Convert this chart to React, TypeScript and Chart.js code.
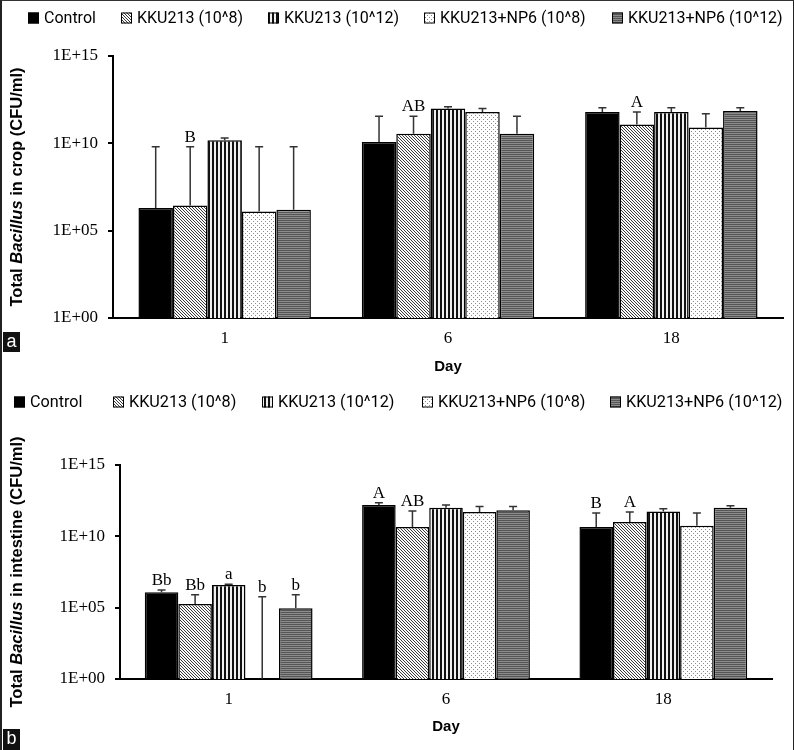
import React, { useEffect, useRef } from "react";
import { Chart, registerables } from "chart.js";
Chart.register(...registerables);

// ---------- data ----------
const days = ["1", "6", "18"];
const seriesNames = [
  "Control",
  "KKU213 (10^8)",
  "KKU213 (10^12)",
  "KKU213+NP6 (10^8)",
  "KKU213+NP6 (10^12)",
];
const yTickValues = [1e0, 1e5, 1e10, 1e15];

// Panel a: total Bacillus in crop (CFU/ml) — mean, and top of error bar
const cropControl = [2.0e6, 1.2e10, 6.3e11];
const cropK8 = [2.8e6, 3.5e10, 1.2e11];
const cropK12 = [1.5e10, 1.0e12, 6.3e11];
const cropN8 = [1.25e6, 6.3e11, 8.0e10];
const cropN12 = [1.6e6, 3.5e10, 7.0e11];
const cropControlUpper = [6.3e9, 3.5e11, 1.1e12];
const cropK8Upper = [6.3e9, 3.5e11, 6.3e11];
const cropK12Upper = [2.0e10, 1.25e12, 1.1e12];
const cropN8Upper = [6.3e9, 1.0e12, 5.0e11];
const cropN12Upper = [6.3e9, 3.5e11, 1.1e12];
const cropControlLetters = ["", "", ""];
const cropK8Letters = ["B", "AB", "A"];
const cropK12Letters = ["", "", ""];
const cropN8Letters = ["", "", ""];
const cropN12Letters = ["", "", ""];

// Panel b: total Bacillus in intestine (CFU/ml)
const intControl = [1.2e6, 1.6e12, 4.5e10];
const intK8 = [1.8e5, 4.5e10, 1.0e11];
const intK12 = [3.9e6, 1.0e12, 5.6e11];
const intN8 = [1, 5.0e11, 5.6e10];
const intN12 = [9.0e4, 6.6e11, 1.0e12];
const intControlUpper = [1.7e6, 2.3e12, 4.3e11];
const intK8Upper = [8.0e5, 5.9e11, 5.0e11];
const intK12Upper = [4.3e6, 1.6e12, 8.7e11];
const intN8Upper = [5.9e5, 1.25e12, 4.3e11];
const intN12Upper = [8.0e5, 1.25e12, 1.4e12];
const intControlLetters = ["Bb", "A", "B"];
const intK8Letters = ["Bb", "AB", "A"];
const intK12Letters = ["a", "", ""];
const intN8Letters = ["b", "", ""];
const intN12Letters = ["b", "", ""];

// ---------- styling helpers ----------
function makePattern(kind: string): CanvasPattern | string {
  const c = document.createElement("canvas");
  const g = c.getContext("2d")!;
  if (kind === "diag") {
    c.width = 3; c.height = 3;
    g.fillStyle = "#fafafa"; g.fillRect(0, 0, 3, 3);
    g.fillStyle = "#3a3a3a";
    g.fillRect(0, 0, 1, 1);
    g.fillRect(1, 1, 1, 1);
    g.fillRect(2, 2, 1, 1);
  } else if (kind === "vert") {
    c.width = 4; c.height = 1;
    g.fillStyle = "#f0f0f0"; g.fillRect(0, 0, 4, 1);
    g.fillStyle = "#111"; g.fillRect(0, 0, 2, 1);
  } else if (kind === "dots") {
    c.width = 4; c.height = 4;
    g.fillStyle = "#fff"; g.fillRect(0, 0, 4, 4);
    g.fillStyle = "#8a8a8a";
    g.fillRect(1, 1, 1, 1);
    g.fillRect(3, 3, 1, 1);
  } else {
    c.width = 1; c.height = 2;
    g.fillStyle = "#555"; g.fillRect(0, 0, 1, 1);
    g.fillStyle = "#8c8c8c"; g.fillRect(0, 1, 1, 1);
  }
  return g.createPattern(c, "repeat") || "#777";
}

type Panel = {
  values: number[][];
  upper: number[][];
  letters: string[][];
  titleRest: string;
  H: number;
  axisLeft: number;
  axisRight: number;
  axisTop: number;
  axisBottom: number;
  legendX: number[];
  legendY: number;
  legendFont: number;
  dayPad: number;
};

const W = 794;

function fmtTick(v: number) {
  const e = Math.round(Math.log10(v));
  return "1E+" + String(e).padStart(2, "0");
}

function buildConfig(p: Panel, fills: (CanvasPattern | string)[]): any {
  const decor = {
    id: "decor",
    afterDatasetsDraw(chart: any) {
      const ctx = chart.ctx as CanvasRenderingContext2D;
      const ys = chart.scales.y;
      ctx.save();
      chart.data.datasets.forEach((_ds: any, i: number) => {
        const meta = chart.getDatasetMeta(i);
        meta.data.forEach((el: any, j: number) => {
          const yErr = ys.getPixelForValue(p.upper[i][j]);
          ctx.strokeStyle = "#333";
          ctx.lineWidth = 1.5;
          ctx.beginPath();
          ctx.moveTo(el.x, el.y);
          ctx.lineTo(el.x, yErr);
          ctx.moveTo(el.x - 4, yErr);
          ctx.lineTo(el.x + 4, yErr);
          ctx.stroke();
          const lbl = p.letters[i][j];
          if (lbl) {
            ctx.fillStyle = "#000";
            ctx.font = '17px "Liberation Serif", "DejaVu Serif", serif';
            ctx.textAlign = "center";
            ctx.textBaseline = "alphabetic";
            ctx.fillText(lbl, el.x, yErr - 5);
          }
        });
      });
      ctx.restore();
    },
    afterDraw(chart: any) {
      const ctx = chart.ctx as CanvasRenderingContext2D;
      const area = chart.chartArea;
      ctx.save();
      // legend
      ctx.textBaseline = "middle";
      ctx.textAlign = "left";
      seriesNames.forEach((name, i) => {
        const bx = p.legendX[i];
        const by = p.legendY - 5.5;
        ctx.fillStyle = fills[i] as any;
        ctx.fillRect(bx, by, 11, 11);
        ctx.strokeStyle = "#000";
        ctx.lineWidth = 1;
        ctx.strokeRect(bx + 0.5, by + 0.5, 10, 10);
        ctx.fillStyle = "#000";
        ctx.font = `${p.legendFont}px Roboto, "Liberation Sans", sans-serif`;
        ctx.fillText(name, bx + 16, p.legendY + 1);
      });
      // y-axis title with italic genus name
      const parts: [string, boolean][] = [
        ["Total ", false],
        ["Bacillus", true],
        [p.titleRest, false],
      ];
      const fontFor = (it: boolean) =>
        `${it ? "italic " : ""}bold 16.5px "Liberation Sans", Arial, sans-serif`;
      let total = 0;
      parts.forEach(([t, it]) => {
        ctx.font = fontFor(it);
        total += ctx.measureText(t).width;
      });
      ctx.translate(17.5, (area.top + area.bottom) / 2);
      ctx.rotate(-Math.PI / 2);
      let x = -total / 2;
      ctx.textBaseline = "middle";
      parts.forEach(([t, it]) => {
        ctx.font = fontFor(it);
        ctx.fillText(t, x, 0);
        x += ctx.measureText(t).width;
      });
      ctx.restore();
    },
  };

  return {
    type: "bar",
    data: {
      labels: days,
      datasets: seriesNames.map((name, i) => ({
        label: name,
        data: p.values[i],
        backgroundColor: fills[i],
        borderColor: "#000",
        borderWidth: 1.5,
        categoryPercentage: 0.772,
        barPercentage: 1,
      })),
    },
    options: {
      responsive: false,
      animation: false,
      devicePixelRatio: 1,
      layout: {
        padding: { top: p.axisTop, left: 0, right: W - p.axisRight, bottom: 0 },
      },
      plugins: {
        legend: { display: false },
        tooltip: { enabled: false },
      },
      scales: {
        x: {
          type: "category",
          grid: { display: false, drawTicks: false },
          border: { display: true, color: "#000", width: 2 },
          ticks: {
            color: "#000",
            padding: 10,
            font: { family: '"Liberation Serif", "DejaVu Serif", serif', size: 17 },
          },
          title: {
            display: true,
            text: "Day",
            color: "#000",
            font: { family: '"Liberation Sans", Arial, sans-serif', size: 15, weight: "bold" },
            padding: { top: 0, bottom: p.dayPad },
          },
          afterFit(scale: any) {
            scale.height = p.H - p.axisBottom;
          },
        },
        y: {
          type: "logarithmic",
          position: "left",
          min: 1,
          max: 1e15,
          afterBuildTicks(scale: any) {
            scale.ticks = yTickValues.map((v) => ({ value: v, major: true }));
          },
          afterFit(scale: any) {
            scale.width = p.axisLeft;
          },
          grid: {
            display: true,
            drawOnChartArea: false,
            drawTicks: true,
            tickLength: 5,
            color: "#000",
            lineWidth: 2,
          },
          border: { display: true, color: "#000", width: 2 },
          ticks: {
            color: "#000",
            padding: 10,
            autoSkip: false,
            font: { family: '"Liberation Serif", "DejaVu Serif", serif', size: 17 },
            callback: (v: any) => fmtTick(Number(v)),
          },
        },
      },
    },
    plugins: [decor],
  };
}

const panelA: Panel = {
  values: [cropControl, cropK8, cropK12, cropN8, cropN12],
  upper: [cropControlUpper, cropK8Upper, cropK12Upper, cropN8Upper, cropN12Upper],
  letters: [cropControlLetters, cropK8Letters, cropK12Letters, cropN8Letters, cropN12Letters],
  titleRest: " in crop (CFU/ml)",
  H: 380,
  axisLeft: 113,
  axisRight: 783,
  axisTop: 56,
  axisBottom: 318,
  legendX: [28, 121, 268, 424, 612],
  legendY: 18,
  legendFont: 16,
  dayPad: 4,
};

const panelB: Panel = {
  values: [intControl, intK8, intK12, intN8, intN12],
  upper: [intControlUpper, intK8Upper, intK12Upper, intN8Upper, intN12Upper],
  letters: [intControlLetters, intK8Letters, intK12Letters, intN8Letters, intN12Letters],
  titleRest: " in intestine (CFU/ml)",
  H: 370,
  axisLeft: 120,
  axisRight: 772,
  axisTop: 85,
  axisBottom: 299,
  legendX: [14, 113, 262, 422, 610],
  legendY: 22,
  legendFont: 16.2,
  dayPad: 14,
};

export default function App() {
  const refA = useRef<HTMLCanvasElement>(null);
  const refB = useRef<HTMLCanvasElement>(null);
  useEffect(() => {
    document.body.style.margin = "0";
    const fills = [
      "#000",
      makePattern("diag"),
      makePattern("vert"),
      makePattern("dots"),
      makePattern("horiz"),
    ];
    const a = new Chart(refA.current!, buildConfig(panelA, fills));
    const b = new Chart(refB.current!, buildConfig(panelB, fills));
    return () => {
      a.destroy();
      b.destroy();
    };
  }, []);

  const tag: React.CSSProperties = {
    position: "absolute",
    left: 3,
    width: 17,
    background: "#111",
    color: "#fff",
    fontFamily: '"Liberation Sans", Arial, sans-serif',
    fontSize: 18,
    lineHeight: "19px",
    textAlign: "center",
  };

  return (
    <div style={{ position: "relative", width: W, height: 750, background: "#fff", overflow: "hidden" }}>
      <canvas ref={refA} width={W} height={380} style={{ position: "absolute", left: 0, top: 0, width: W, height: 380 }} />
      <canvas ref={refB} width={W} height={370} style={{ position: "absolute", left: 0, top: 380, width: W, height: 370 }} />
      <div
        style={{
          position: "absolute",
          left: 0,
          top: 0,
          width: W,
          height: 750,
          boxSizing: "border-box",
          borderTop: "1px solid #333",
          borderRight: "1.5px solid #222",
          borderLeft: "2px solid #222",
          pointerEvents: "none",
        }}
      />
      <div style={{ ...tag, top: 332, height: 20 }}>a</div>
      <div style={{ ...tag, top: 729, height: 21 }}>b</div>
    </div>
  );
}
